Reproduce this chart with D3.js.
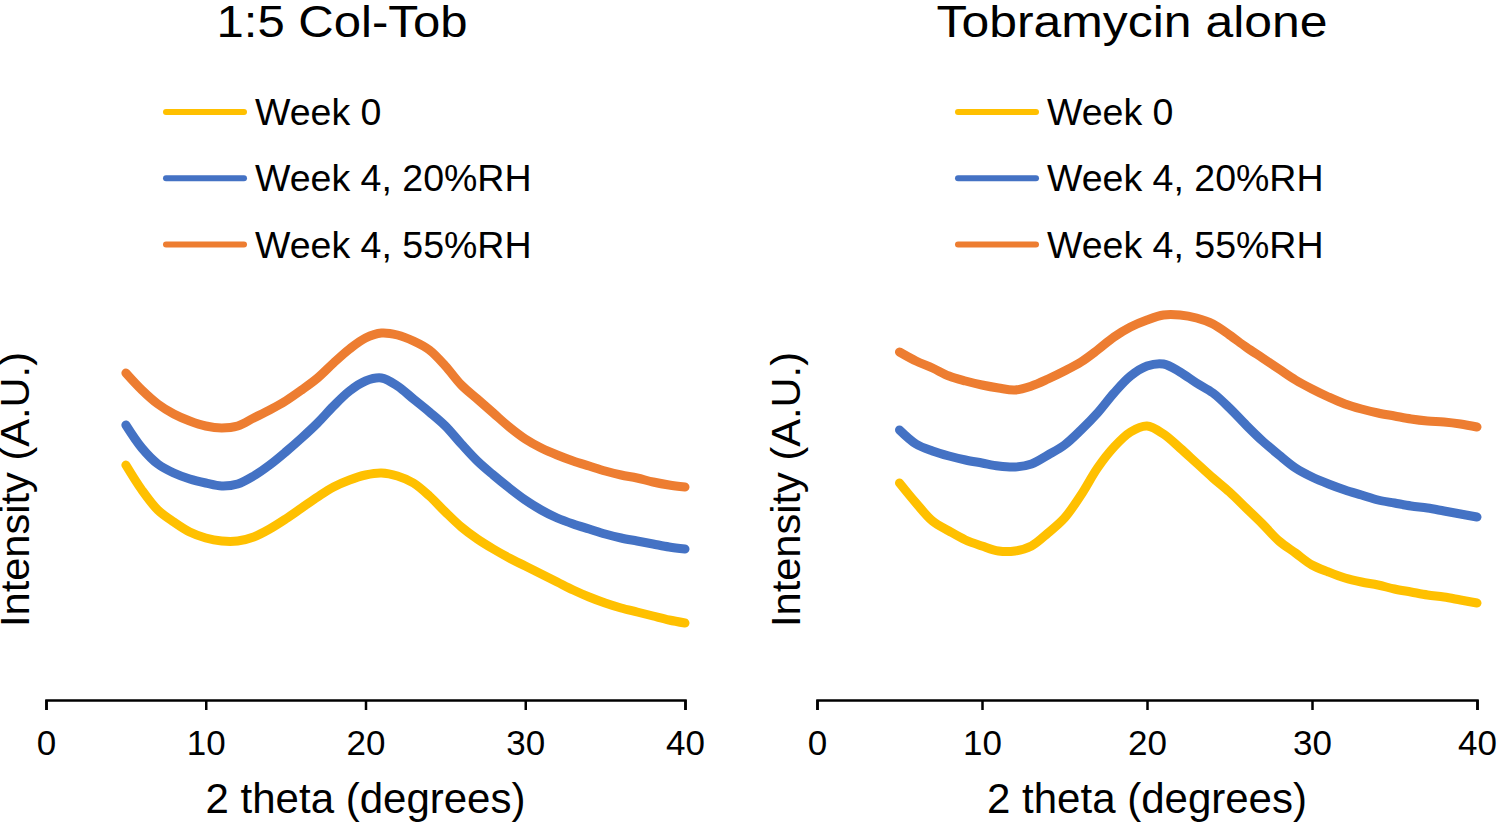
<!DOCTYPE html>
<html>
<head>
	<title>XRD patterns</title>
	<script src="https://d3js.org/d3.v7.min.js"></script>
	<style>
		body { margin: 0; background: #fff; }
		text { font-family: "Liberation Sans", Arial, sans-serif; fill: #000; }
	</style>
</head>
<body>
<script type="text/javascript">
	// 2 theta sampling (degrees)
	var theta = [5, 6, 7, 8, 9, 10, 11, 12, 13, 14, 15, 16, 17, 18, 19, 20, 21, 22,
		23, 24, 25, 26, 27, 28, 29, 30, 31, 32, 33, 34, 35, 36, 37, 38, 39, 40];

	// 1:5 Col-Tob (intensity, arbitrary units, offset as plotted)
	var colTobWeek0 = [235, 210, 190, 178, 168, 162, 159, 159, 163, 171, 181, 192, 203, 213, 220, 225, 227, 224,
		217, 204, 188, 173, 161, 151, 142, 134, 126, 118, 110, 103, 97, 92, 88, 84, 80, 77];
	var colTobWeek4RH20 = [275, 252, 236, 227, 221, 217, 214, 216, 224, 235, 248, 262, 277, 294, 309, 319, 322, 314,
		301, 288, 274, 256, 239, 225, 212, 200, 190, 182, 176, 171, 166, 162, 159, 156, 153, 151];
	var colTobWeek4RH55 = [327, 310, 296, 286, 279, 274, 272, 274, 282, 290, 299, 310, 322, 337, 351, 362, 367, 365,
		359, 350, 334, 315, 301, 287, 273, 261, 252, 245, 239, 234, 229, 225, 222, 218, 215, 213];

	// Tobramycin alone
	var tobWeek0 = [217, 197, 179, 169, 160, 154, 149, 149, 154, 167, 182, 205, 232, 253, 268, 274, 266, 252,
		237, 222, 208, 192, 176, 159, 147, 135, 128, 122, 118, 115, 111, 108, 105, 103, 100, 97];
	var tobWeek4RH20 = [270, 256, 249, 244, 240, 237, 234, 233, 236, 245, 255, 270, 287, 307, 324, 334, 336, 328,
		317, 307, 292, 275, 259, 245, 232, 223, 216, 210, 205, 200, 197, 194, 192, 189, 186, 183];
	var tobWeek4RH55 = [348, 339, 332, 324, 319, 315, 312, 310, 314, 321, 329, 338, 350, 363, 373, 380, 385, 385,
		382, 376, 365, 353, 342, 331, 320, 311, 303, 296, 291, 287, 284, 281, 279, 278, 276, 273];

	var seriesNames = ['Week 0', 'Week 4, 20%RH', 'Week 4, 55%RH'];
	var seriesColors = ['#FFC000', '#4472C4', '#ED7D31'];
	var xTicks = [0, 10, 20, 30, 40];
	var panelTitles = ['1:5 Col-Tob', 'Tobramycin alone'];

	var width = 1497;
	var height = 823;

	var svg = d3.select('body').append('svg')
		.attr('width', width)
		.attr('height', height);

	var panels = [
		{ title: panelTitles[0], series: [colTobWeek0, colTobWeek4RH20, colTobWeek4RH55],
			x0: 46, x1: 685, titleX: 342, titleW: 251, yLabelX: 30, legendX: 163 },
		{ title: panelTitles[1], series: [tobWeek0, tobWeek4RH20, tobWeek4RH55],
			x0: 817, x1: 1477, titleX: 1132, titleW: 391, yLabelX: 801, legendX: 955 }
	];

	// same vertical scale in both panels, no y axis drawn
	var y = d3.scaleLinear().domain([0, 400]).range([700, 300]);

	panels.forEach(function(p) {
		var x = d3.scaleLinear().domain([0, 40]).range([p.x0, p.x1]);
		var g = svg.append('g');

		var line = d3.line()
			.x(function(d, i) { return x(theta[i]); })
			.y(function(d) { return y(d); })
			.curve(d3.curveCatmullRom);

		// week 0 drawn first, 55%RH on top
		p.series.forEach(function(s, i) {
			g.append('path')
				.datum(s)
				.attr('d', line)
				.attr('fill', 'none')
				.attr('stroke', seriesColors[i])
				.attr('stroke-width', 9)
				.attr('stroke-linejoin', 'round')
				.attr('stroke-linecap', 'round');
		});

		var axis = g.append('g')
			.attr('transform', 'translate(0,' + y(0) + ')')
			.call(d3.axisBottom(x).tickValues(xTicks).tickSize(10).tickSizeOuter(10).tickPadding(20));
		axis.select('.domain').attr('stroke', '#000').attr('stroke-width', 2.5);
		axis.selectAll('.tick line').attr('stroke', '#000').attr('stroke-width', 2.5);
		axis.selectAll('.tick text')
			.attr('font-family', '"Liberation Sans", Arial, sans-serif')
			.attr('font-size', 35)
			.attr('fill', '#000');

		g.append('text')
			.attr('x', (p.x0 + p.x1) / 2)
			.attr('y', 813)
			.attr('text-anchor', 'middle')
			.attr('font-size', 42)
			.text('2 theta (degrees)');

		g.append('text')
			.attr('transform', 'translate(' + (p.yLabelX - 1) + ',489.5) rotate(-90)')
			.attr('text-anchor', 'middle')
			.attr('font-size', 40)
			.attr('textLength', 275)
			.attr('lengthAdjust', 'spacingAndGlyphs')
			.text('Intensity (A.U.)');

		g.append('text')
			.attr('x', p.titleX)
			.attr('y', 37)
			.attr('text-anchor', 'middle')
			.attr('font-size', 45)
			.attr('textLength', p.titleW)
			.attr('lengthAdjust', 'spacingAndGlyphs')
			.text(p.title);

		// legend
		var leg = g.selectAll('.legend')
			.data(seriesNames)
			.enter()
			.append('g')
			.attr('class', 'legend')
			.attr('transform', function(d, i) { return 'translate(' + p.legendX + ',' + (112 + i * 66.3) + ')'; });
		leg.append('line')
			.attr('x1', 3).attr('x2', 81)
			.attr('stroke', function(d, i) { return seriesColors[i]; })
			.attr('stroke-width', 6)
			.attr('stroke-linecap', 'round');
		leg.append('text')
			.attr('x', 92)
			.attr('y', 13)
			.attr('font-size', 37.5)
			.text(function(d) { return d; });
	});
</script>
</body>
</html>
